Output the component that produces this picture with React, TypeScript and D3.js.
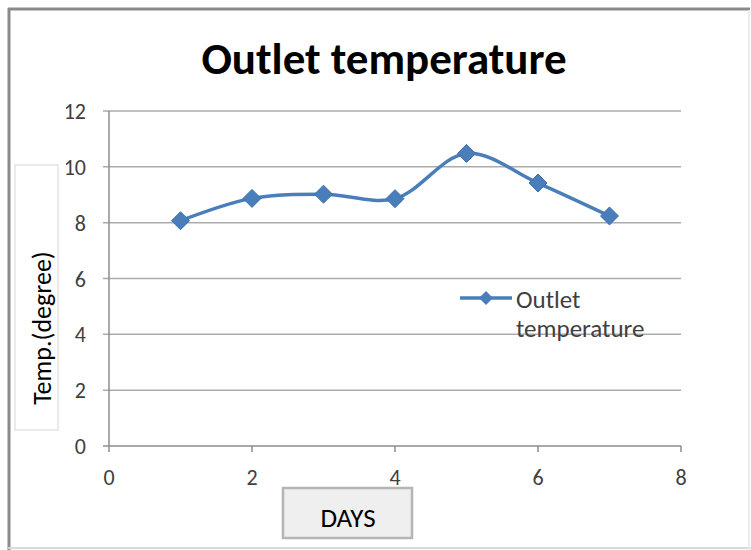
import React from "react";
import * as d3 from "d3";

// data
const days = [1, 2, 3, 4, 5, 6, 7];
const outletTemp = [8.07, 8.87, 9.02, 8.86, 10.48, 9.42, 8.24];
const xTicks = [0, 2, 4, 6, 8];
const yTicks = [0, 2, 4, 6, 8, 10, 12];
const seriesName = "Outlet temperature";
const titleText = "Outlet temperature";
const xTitle = "DAYS";
const yTitle = "Temp.(degree)";

const W = 751;
const H = 550;
const plot = { left: 109, right: 681, top: 111, bottom: 446 };
const lineColor = "#4a7ebb";
const font = "Carlito, Calibri, 'Open Sans', 'Liberation Sans', sans-serif";

const diamond = (cx: number, cy: number, r: number) =>
  `M${cx},${cy - r}L${cx + r},${cy}L${cx},${cy + r}L${cx - r},${cy}Z`;

export default function App() {
  const x = d3.scaleLinear().domain([0, 8]).range([plot.left, plot.right]);
  const y = d3.scaleLinear().domain([0, 12]).range([plot.bottom, plot.top]);

  const points = days.map((d, i) => ({ d, v: outletTemp[i] }));
  const line = d3
    .line<{ d: number; v: number }>()
    .x((p) => x(p.d))
    .y((p) => y(p.v))
    .curve(d3.curveCatmullRom.alpha(0.5));

  const [legendTop, legendBottom] = seriesName.split(" ");

  return (
    <svg
      width={W}
      height={H}
      style={{ position: "absolute", left: 0, top: 0, background: "#fff" }}
    >
      {/* frame */}
      <line x1={8} y1={9} x2={750} y2={9} stroke="#8a8a8a" strokeWidth={3} />
      <line x1={9} y1={8} x2={9} y2={550} stroke="#8a8a8a" strokeWidth={3} />
      <line x1={8} y1={548} x2={751} y2={548} stroke="#d8d8d8" strokeWidth={2} />
      <line x1={749} y1={10} x2={749} y2={550} stroke="#ececec" strokeWidth={2} />

      <text
        x={384}
        y={74}
        textAnchor="middle"
        fontFamily={font}
        fontWeight="bold"
        fontSize={45}
        fill="#000"
      >
        {titleText}
      </text>

      {/* gridlines + y ticks */}
      {yTicks.map((t) => (
        <g key={"y" + t}>
          <line
            x1={plot.left - 6}
            x2={plot.right}
            y1={y(t)}
            y2={y(t)}
            stroke={t === 0 ? "#8c8c8c" : "#ababab"}
            strokeWidth={1.5}
          />
          <text
            x={86}
            y={y(t) + 8}
            textAnchor="end"
            fontFamily={font}
            fontSize={22}
            fill="#404040"
          >
            {t}
          </text>
        </g>
      ))}
      <line
        x1={plot.left}
        x2={plot.left}
        y1={plot.top}
        y2={plot.bottom}
        stroke="#8c8c8c"
        strokeWidth={1.5}
      />
      {xTicks.map((t) => (
        <g key={"x" + t}>
          <line
            x1={x(t)}
            x2={x(t)}
            y1={plot.bottom}
            y2={plot.bottom + 6}
            stroke="#8c8c8c"
            strokeWidth={1.5}
          />
          <text
            x={x(t)}
            y={485}
            textAnchor="middle"
            fontFamily={font}
            fontSize={22}
            fill="#404040"
          >
            {t}
          </text>
        </g>
      ))}

      {/* series */}
      <path
        d={line(points) || ""}
        fill="none"
        stroke={lineColor}
        strokeWidth={3.5}
        strokeLinejoin="round"
      />
      {points.map((p) => (
        <path
          key={p.d}
          d={diamond(x(p.d), y(p.v), 9)}
          fill={lineColor}
          stroke="#3d6fae"
          strokeWidth={1}
        />
      ))}

      {/* legend */}
      <line x1={460} x2={512} y1={298} y2={298} stroke={lineColor} strokeWidth={3.5} />
      <path d={diamond(486, 298, 7)} fill={lineColor} />
      <text x={516} y={308} fontFamily={font} fontSize={25} fill="#404040">
        {legendTop}
      </text>
      <text x={516} y={337} fontFamily={font} fontSize={25} fill="#404040">
        {legendBottom}
      </text>

      {/* y axis title box */}
      <rect x={15} y={165} width={43} height={265} fill="#fff" stroke="#e4e4e4" strokeWidth={1.5} />
      <text
        transform="translate(51,328) rotate(-90)"
        textAnchor="middle"
        fontFamily={font}
        fontSize={26}
        fill="#000"
      >
        {yTitle}
      </text>

      {/* x axis title box */}
      <rect x={283} y={488} width={129} height={50} fill="#efefef" stroke="#b5b5b5" strokeWidth={2.5} />
      <text
        x={348}
        y={527}
        textAnchor="middle"
        fontFamily={font}
        fontSize={27}
        fill="#000"
      >
        {xTitle}
      </text>
    </svg>
  );
}
